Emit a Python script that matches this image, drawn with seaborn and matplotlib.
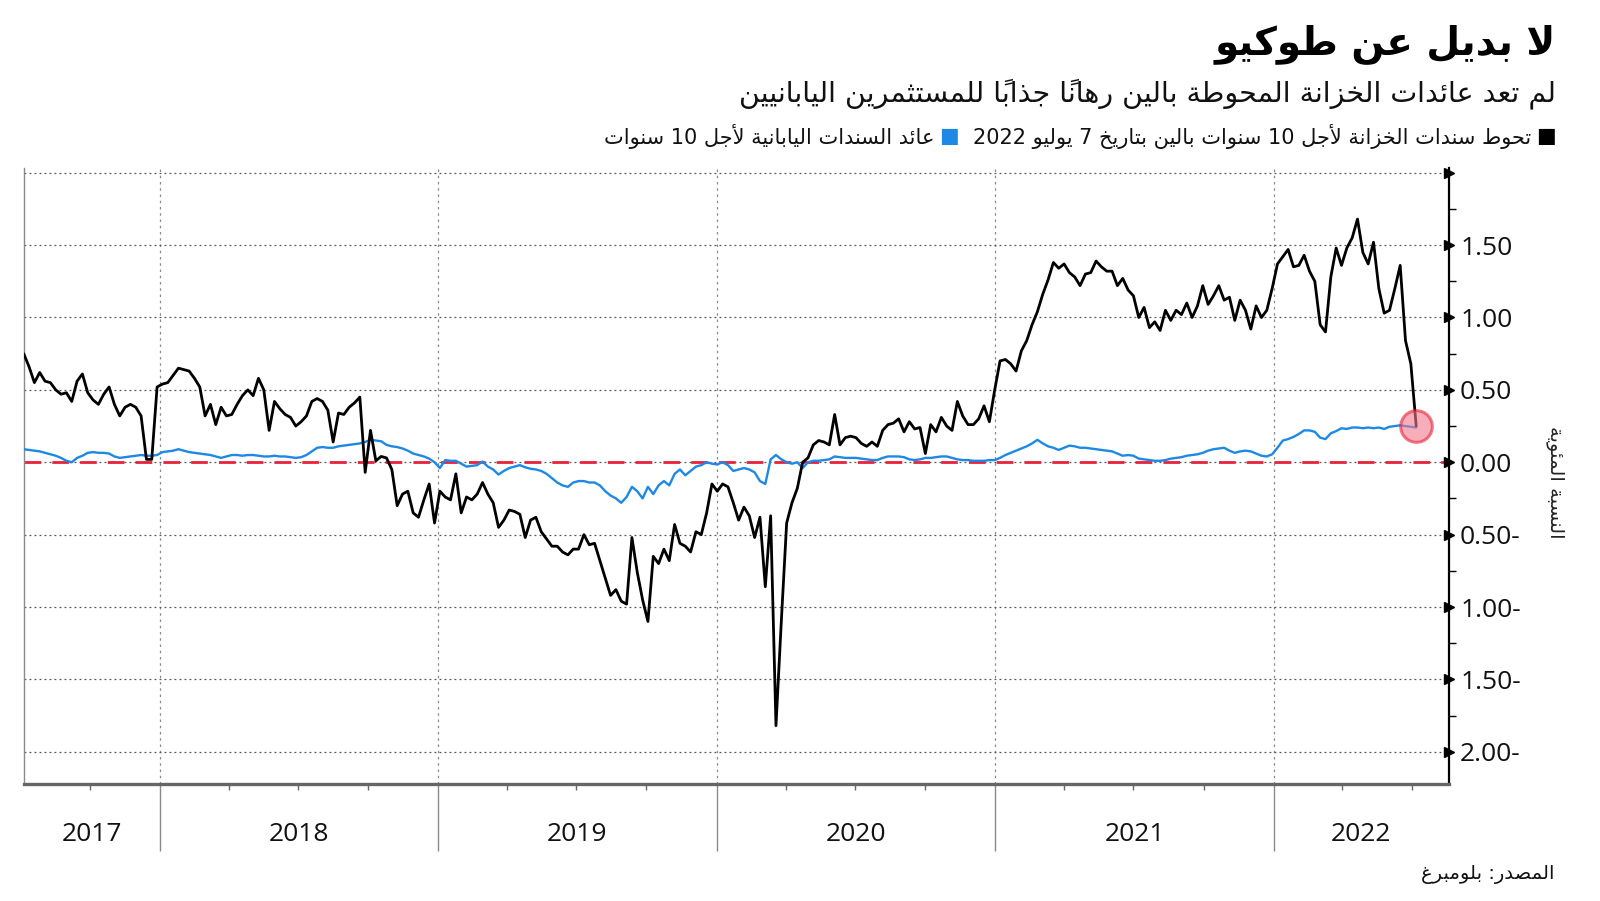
import numpy as np
import pandas as pd
import matplotlib
matplotlib.use('Agg')
import matplotlib.pyplot as plt
import matplotlib.dates as mdates
import matplotlib.ticker as mticker
import matplotlib.transforms as mtransforms
import seaborn as sns

# ---- data (weekly readings, 2017-07-06 .. 2022-07-07) ----
dates = pd.date_range(end='2022-07-07', periods=262, freq='7D')

hedged_yield = [
    0.75, 0.66, 0.55, 0.62, 0.56, 0.55, 0.50, 0.47, 0.48, 0.42,
    0.56, 0.61, 0.48, 0.43, 0.40, 0.47, 0.52, 0.40, 0.32, 0.38,
    0.40, 0.38, 0.32, 0.02, 0.02, 0.52, 0.54, 0.55, 0.60, 0.65,
    0.64, 0.63, 0.58, 0.52, 0.32, 0.40, 0.26, 0.38, 0.32, 0.33,
    0.40, 0.46, 0.50, 0.46, 0.58, 0.50, 0.22, 0.42, 0.37, 0.33,
    0.31, 0.25, 0.28, 0.32, 0.42, 0.44, 0.42, 0.36, 0.14, 0.34,
    0.33, 0.38, 0.41, 0.45, -0.07, 0.22, 0.01, 0.04, 0.03, -0.05,
    -0.30, -0.22, -0.20, -0.35, -0.38, -0.26, -0.15, -0.42, -0.20, -0.24,
    -0.26, -0.08, -0.35, -0.24, -0.26, -0.22, -0.14, -0.22, -0.28, -0.45,
    -0.40, -0.33, -0.34, -0.36, -0.52, -0.40, -0.38, -0.48, -0.53, -0.58,
    -0.58, -0.62, -0.64, -0.60, -0.60, -0.50, -0.57, -0.56, -0.68, -0.80,
    -0.92, -0.88, -0.96, -0.98, -0.52, -0.76, -0.95, -1.10, -0.65, -0.70,
    -0.60, -0.68, -0.43, -0.56, -0.58, -0.62, -0.48, -0.50, -0.35, -0.15,
    -0.20, -0.15, -0.17, -0.28, -0.40, -0.31, -0.37, -0.52, -0.38, -0.86,
    -0.37, -1.82, -1.10, -0.42, -0.28, -0.18, 0.00, 0.03, 0.12, 0.15,
    0.14, 0.12, 0.33, 0.12, 0.17, 0.18, 0.17, 0.13, 0.11, 0.14,
    0.11, 0.22, 0.26, 0.27, 0.30, 0.21, 0.28, 0.23, 0.24, 0.06,
    0.26, 0.21, 0.31, 0.25, 0.22, 0.42, 0.32, 0.26, 0.26, 0.30,
    0.39, 0.28, 0.50, 0.70, 0.71, 0.68, 0.63, 0.77, 0.84, 0.95,
    1.04, 1.16, 1.26, 1.38, 1.34, 1.37, 1.31, 1.28, 1.22, 1.30,
    1.31, 1.39, 1.35, 1.32, 1.32, 1.22, 1.27, 1.19, 1.15, 1.00,
    1.07, 0.93, 0.97, 0.91, 1.05, 0.98, 1.05, 1.02, 1.10, 1.00,
    1.08, 1.22, 1.09, 1.15, 1.22, 1.12, 1.14, 0.98, 1.12, 1.05,
    0.92, 1.08, 1.00, 1.05, 1.20, 1.37, 1.42, 1.47, 1.35, 1.36,
    1.43, 1.32, 1.25, 0.95, 0.90, 1.28, 1.48, 1.36, 1.48, 1.55,
    1.68, 1.45, 1.37, 1.52, 1.20, 1.03, 1.05, 1.20, 1.36, 0.84,
    0.68, 0.25,
]

jgb_yield = [
    0.09, 0.085, 0.08, 0.075, 0.065, 0.055, 0.045, 0.03, 0.01, 0.00,
    0.03, 0.045, 0.065, 0.07, 0.065, 0.065, 0.06, 0.04, 0.03, 0.035,
    0.04, 0.045, 0.05, 0.045, 0.045, 0.05, 0.07, 0.075, 0.08, 0.09,
    0.08, 0.07, 0.065, 0.06, 0.055, 0.05, 0.04, 0.03, 0.04, 0.05,
    0.05, 0.045, 0.05, 0.05, 0.045, 0.04, 0.04, 0.045, 0.04, 0.04,
    0.035, 0.03, 0.035, 0.05, 0.075, 0.10, 0.105, 0.10, 0.10, 0.11,
    0.115, 0.12, 0.125, 0.13, 0.14, 0.155, 0.15, 0.145, 0.12, 0.11,
    0.105, 0.095, 0.08, 0.06, 0.05, 0.04, 0.025, 0.00, -0.04, 0.015,
    0.01, 0.01, -0.01, -0.03, -0.025, -0.02, 0.005, -0.03, -0.05, -0.085,
    -0.06, -0.04, -0.03, -0.02, -0.035, -0.045, -0.05, -0.06, -0.08, -0.11,
    -0.14, -0.16, -0.17, -0.14, -0.13, -0.13, -0.14, -0.14, -0.16, -0.20,
    -0.23, -0.25, -0.28, -0.24, -0.17, -0.20, -0.25, -0.17, -0.22, -0.16,
    -0.13, -0.16, -0.08, -0.05, -0.09, -0.06, -0.03, -0.02, 0.00, -0.01,
    -0.015, 0.00, -0.02, -0.06, -0.05, -0.04, -0.05, -0.07, -0.13, -0.15,
    0.02, 0.05, 0.02, 0.00, -0.01, 0.00, -0.04, 0.00, 0.01, 0.01,
    0.015, 0.02, 0.04, 0.035, 0.03, 0.03, 0.03, 0.025, 0.02, 0.015,
    0.015, 0.03, 0.04, 0.04, 0.04, 0.035, 0.02, 0.015, 0.02, 0.03,
    0.03, 0.035, 0.04, 0.04, 0.03, 0.02, 0.015, 0.015, 0.01, 0.01,
    0.01, 0.015, 0.015, 0.03, 0.05, 0.065, 0.08, 0.095, 0.11, 0.13,
    0.155, 0.13, 0.11, 0.10, 0.085, 0.10, 0.115, 0.11, 0.10, 0.10,
    0.095, 0.09, 0.085, 0.08, 0.075, 0.06, 0.045, 0.05, 0.045, 0.025,
    0.02, 0.015, 0.01, 0.01, 0.015, 0.025, 0.03, 0.035, 0.045, 0.05,
    0.055, 0.065, 0.08, 0.09, 0.095, 0.10, 0.08, 0.065, 0.075, 0.08,
    0.075, 0.06, 0.045, 0.04, 0.055, 0.10, 0.15, 0.16, 0.175, 0.195,
    0.22, 0.22, 0.21, 0.17, 0.16, 0.20, 0.215, 0.235, 0.23, 0.24,
    0.24, 0.235, 0.24, 0.235, 0.24, 0.23, 0.245, 0.25, 0.255, 0.25,
    0.245, 0.24,
]

years = [2017, 2018, 2019, 2020, 2021, 2022]
y_ticks = [-2.0, -1.5, -1.0, -0.5, 0.0, 0.5, 1.0, 1.5, 2.0]

title = 'لا بديل عن طوكيو'
subtitle = 'لم تعد عائدات الخزانة المحوطة بالين رهاناً جذاباً للمستثمرين اليابانيين'
legend_black = 'تحوط سندات الخزانة لأجل 10 سنوات بالين بتاريخ 7 يوليو 2022'
legend_blue = 'عائد السندات اليابانية لأجل 10 سنوات'
y_label = 'النسبة المئوية'
source = 'المصدر: بلومبرغ'

BLUE = '#1e88e5'
RED = '#e8223a'


# ---- minimal arabic shaping (matplotlib has no RTL layout) ----
def build_forms():
    letters = list(range(0x0621, 0x063B)) + list(range(0x0641, 0x064B))
    counts = [1, 2, 2, 2, 2, 4, 2, 4, 2, 4, 4, 4, 4, 4, 2, 2, 2, 2, 4, 4, 4, 4, 4, 4, 4, 4,
              4, 4, 4, 4, 4, 4, 4, 2, 2, 4]
    table = {}
    code = 0xFE80
    for cp, n in zip(letters, counts):
        table[chr(cp)] = [chr(code + k) for k in range(n)]
        code += n
    return table


FORMS = build_forms()
LAMALEF = {'آ': ('\uFEF5', '\uFEF6'), 'أ': ('\uFEF7', '\uFEF8'),
           'إ': ('\uFEF9', '\uFEFA'), 'ا': ('\uFEFB', '\uFEFC')}
MARKS = set(chr(c) for c in range(0x064B, 0x0653))


def shape(text):
    chars = list(text)
    n = len(chars)
    out = []
    i = 0
    while i < n:
        c = chars[i]
        if c not in FORMS:
            out.append(c)
            i += 1
            continue
        p = i - 1
        while p >= 0 and chars[p] in MARKS:
            p -= 1
        joins_prev = p >= 0 and chars[p] in FORMS and len(FORMS[chars[p]]) == 4
        nx = i + 1
        while nx < n and chars[nx] in MARKS:
            nx += 1
        if c == 'ل' and nx < n and chars[nx] in LAMALEF:
            lig = LAMALEF[chars[nx]]
            out.append(lig[1] if joins_prev else lig[0])
            out.extend(chars[i + 1:nx])
            i = nx + 1
            continue
        f = FORMS[c]
        joins_next = len(f) == 4 and nx < n and chars[nx] in FORMS
        if joins_prev and joins_next:
            out.append(f[3])
        elif joins_prev:
            out.append(f[1])
        elif joins_next:
            out.append(f[2])
        else:
            out.append(f[0])
        i += 1
    return ''.join(out)


def rtl(text):
    tokens = []
    for ch in shape(text):
        if ch in MARKS and tokens:
            tokens[-1] += ch
        elif ch.isdigit() and tokens and tokens[-1][-1].isdigit():
            tokens[-1] += ch
        else:
            tokens.append(ch)
    return ''.join(reversed(tokens))


# ---- figure ----
sns.set_style('white')
plt.rcParams['font.family'] = ['DejaVu Sans']
NUM_FONT = ['Open Sans', 'DejaVu Sans']

W, H = 1600, 901
fig = plt.figure(figsize=(W / 100, H / 100), dpi=100)
ax = fig.add_axes([0.0153, 0.1303, 0.8903, 0.6828])

df = pd.DataFrame({'date': dates, 'hedged': hedged_yield, 'jgb': jgb_yield})

ax.axhline(0, color=RED, lw=2.0, dashes=(6, 4), zorder=2)
sns.lineplot(data=df, x='date', y='jgb', ax=ax, color=BLUE, lw=1.7, sort=False, zorder=3)
sns.lineplot(data=df, x='date', y='hedged', ax=ax, color='black', lw=2.0, sort=False, zorder=4)
sns.scatterplot(x=[dates[-1]], y=[hedged_yield[-1]], ax=ax, s=520, color='#f07a8c',
                alpha=0.6, edgecolor=RED, linewidth=2.2, zorder=5, legend=False)

x_start = pd.Timestamp('2017-07-07')
x_end = pd.Timestamp('2022-08-19')
ax.set_xlim(x_start, x_end)
ax.set_ylim(-2.22, 2.03)

# y axis on the right
ax.yaxis.tick_right()
ax.yaxis.set_major_locator(mticker.FixedLocator(y_ticks))
ax.yaxis.set_minor_locator(mticker.MultipleLocator(0.25))


def fmt(v, pos):
    if v > 1.99:
        return ''
    if v < -0.001:
        return f'{abs(v):.2f}-'
    return f'{abs(v):.2f}'


ax.yaxis.set_major_formatter(mticker.FuncFormatter(fmt))
ax.tick_params(axis='y', which='both', right=True, left=False)
ax.tick_params(axis='y', which='major', length=0, pad=8, labelsize=19, labelcolor='#111')
ax.tick_params(axis='y', which='minor', length=5, width=1.0, color='black', direction='out')
for lab in ax.get_yticklabels():
    lab.set_family(NUM_FONT)
ax.plot([1.0] * len(y_ticks), y_ticks, ls='none', marker='>', ms=7, color='black',
        transform=mtransforms.blended_transform_factory(ax.transAxes, ax.transData),
        clip_on=False, zorder=6)

# x axis: year boundaries + quarters
ax.xaxis.set_major_locator(mdates.YearLocator())
ax.xaxis.set_minor_locator(mdates.MonthLocator(bymonth=[4, 7, 10]))
ax.xaxis.set_major_formatter(mticker.NullFormatter())
ax.tick_params(axis='x', which='both', bottom=True, top=False)
ax.tick_params(axis='x', which='major', length=48, width=1.0, color='#8a8a8a', direction='out')
ax.tick_params(axis='x', which='minor', length=4, width=1.0, color='#666666', direction='out')

ax.grid(axis='y', which='major', color='#555555', lw=0.9, ls=(0, (1.5, 2.5)))
ax.grid(axis='x', which='major', color='#8a8a8a', lw=0.9, ls=(0, (2, 3)))

ax.spines['top'].set_visible(False)
ax.spines['right'].set_color('black')
ax.spines['right'].set_linewidth(1.6)
ax.spines['left'].set_color('#8a8a8a')
ax.spines['left'].set_linewidth(1.0)
ax.spines['bottom'].set_color('#666666')
ax.spines['bottom'].set_linewidth(2.4)
ax.set_xlabel('')
ax.set_ylabel('')

# year labels centred in the visible part of each year
xt = mtransforms.blended_transform_factory(ax.transData, ax.transAxes)
for yr in years:
    a = max(pd.Timestamp(f'{yr}-01-01'), x_start)
    b = min(pd.Timestamp(f'{yr + 1}-01-01'), x_end)
    mid = a + (b - a) / 2
    ax.text(mid, -0.082, str(yr), transform=xt, ha='center', va='center',
            fontsize=19, color='#111', family=NUM_FONT)

# y label, rotated
fig.text(0.9725, 0.465, rtl(y_label), rotation=270, ha='center', va='center',
         fontsize=14, color='#222')

# titles
fig.text(0.9726, 0.951, rtl(title), ha='right', va='center', fontsize=28,
         fontweight='bold', color='black')
fig.text(0.9726, 0.896, rtl(subtitle), ha='right', va='center', fontsize=20.5, color='#111')

# legend, laid out right to left
fig.canvas.draw()
r = fig.canvas.get_renderer()
ly = 0.849
sq1 = fig.text(0.9726, ly, '■', ha='right', va='center', fontsize=15, color='black')
bb = sq1.get_window_extent(r)
t1 = fig.text((bb.x0 - 5) / W, ly, rtl(legend_black), ha='right', va='center',
              fontsize=15, color='#111')
bb = t1.get_window_extent(r)
sq2 = fig.text((bb.x0 - 14) / W, ly, '■', ha='right', va='center', fontsize=15, color=BLUE)
bb = sq2.get_window_extent(r)
fig.text((bb.x0 - 5) / W, ly, rtl(legend_blue), ha='right', va='center',
         fontsize=15, color='#111')

fig.text(0.9713, 0.029, rtl(source), ha='right', va='center', fontsize=14, color='#111')

fig.savefig('out.png', dpi=100)
